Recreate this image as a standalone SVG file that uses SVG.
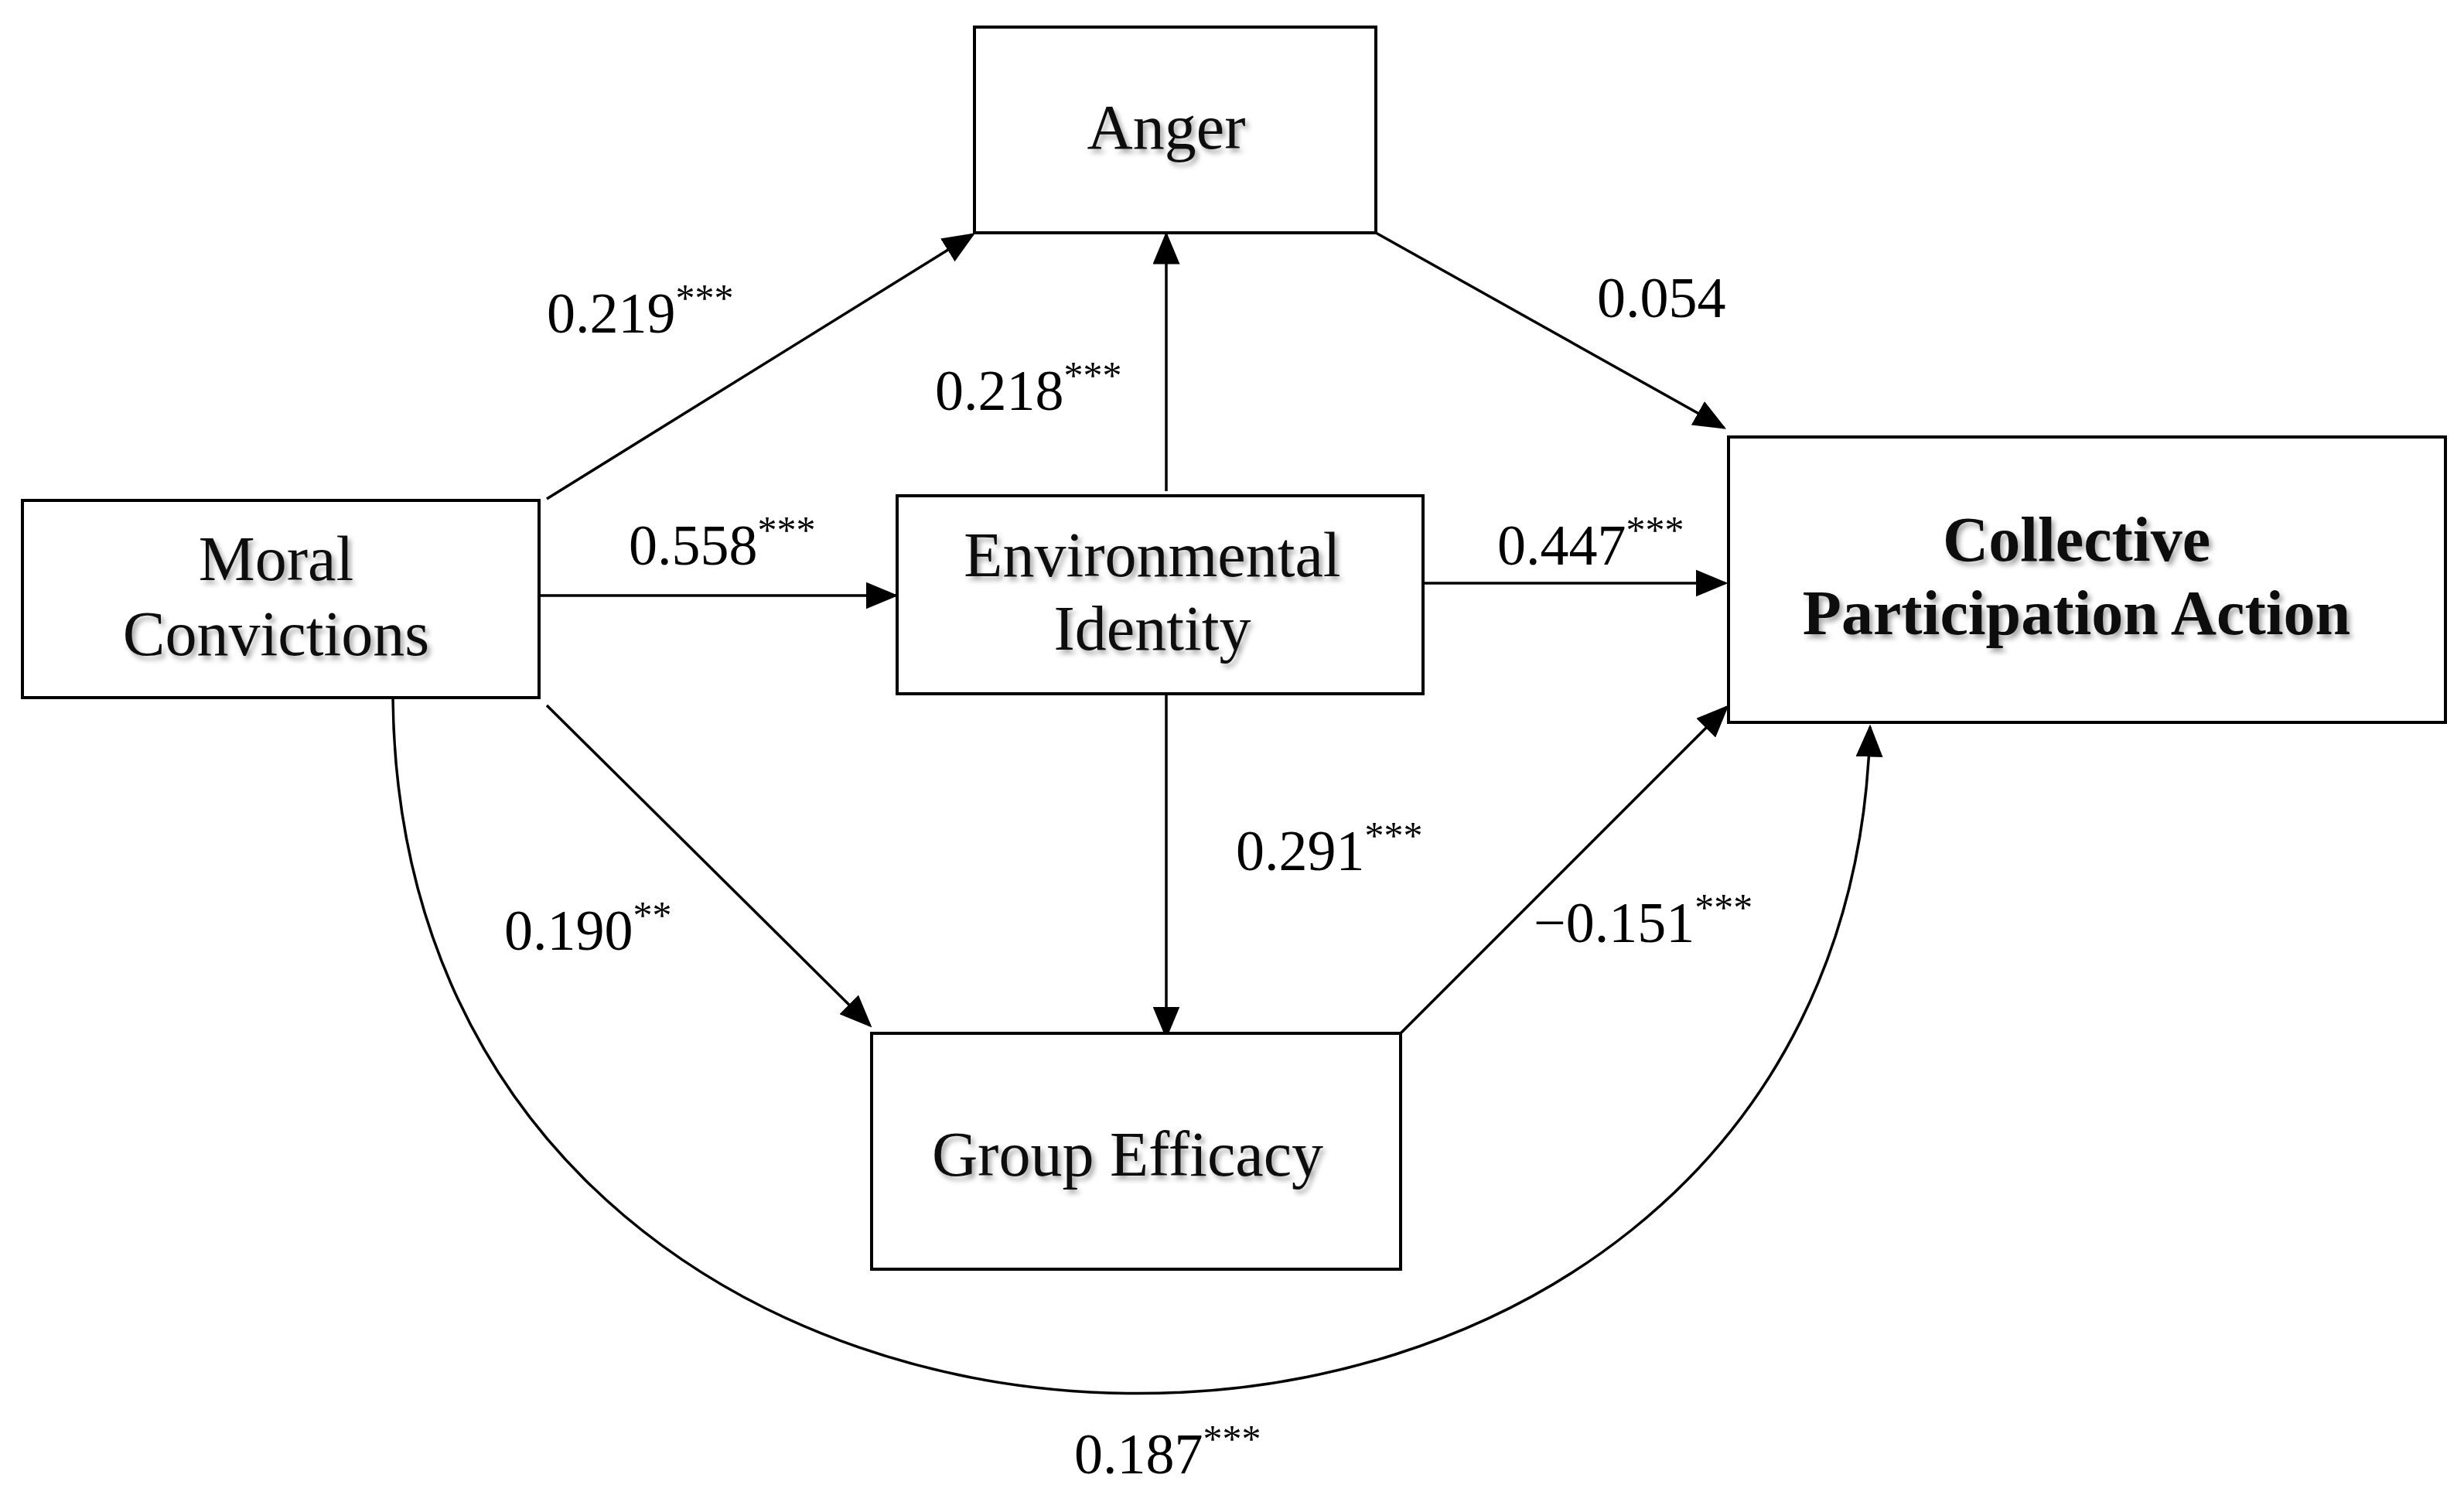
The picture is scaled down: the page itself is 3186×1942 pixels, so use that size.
<svg xmlns="http://www.w3.org/2000/svg" width="3186" height="1942" viewBox="0 0 3186 1942">
<style>
.box{fill:#fff;stroke:#000;stroke-width:4}
.nt{font-family:"Liberation Serif",serif;font-size:82px;fill:#111;text-anchor:middle;filter:url(#sh)}
.lb{font-family:"Liberation Serif",serif;font-size:74px;fill:#000}
.sup{font-size:50px}
.c{stroke:#000;stroke-width:3.5;fill:none;marker-end:url(#ah)}
</style>
<defs>
<marker id="ah" markerWidth="12" markerHeight="10" refX="11" refY="5" orient="auto" markerUnits="strokeWidth"><path d="M0,0 L12,5 L0,10 z" fill="#000"/></marker>
<filter id="sh" x="-10%" y="-20%" width="130%" height="150%"><feDropShadow dx="4" dy="5" stdDeviation="3" flood-color="#000" flood-opacity="0.35"/></filter>
</defs>
<rect width="3186" height="1942" fill="#fff"/>
<g id="connectors">
<path class="c" d="M707,645 L1258,303"/>
<path class="c" d="M697,770 L1158,770"/>
<path class="c" d="M1508,635 L1508,303"/>
<path class="c" d="M1779,301 L2229,553"/>
<path class="c" d="M1840,754 L2231,754"/>
<path class="c" d="M1508,897 L1508,1340"/>
<path class="c" d="M707,912 L1125,1326"/>
<path class="c" d="M1811,1336 L2233,914"/>
<path class="c" d="M508,902 C520,2090 2390,2100 2418,940"/>
</g>
<g id="labels">
<text class="lb" x="707" y="430">0.219<tspan class="sup" dy="-28">***</tspan></text>
<text class="lb" x="813" y="730">0.558<tspan class="sup" dy="-28">***</tspan></text>
<text class="lb" x="1209" y="530">0.218<tspan class="sup" dy="-28">***</tspan></text>
<text class="lb" x="2065" y="410">0.054</text>
<text class="lb" x="1936" y="730">0.447<tspan class="sup" dy="-28">***</tspan></text>
<text class="lb" x="1598" y="1125">0.291<tspan class="sup" dy="-28">***</tspan></text>
<text class="lb" x="652" y="1228">0.190<tspan class="sup" dy="-28">**</tspan></text>
<text class="lb" x="1983" y="1218">−0.151<tspan class="sup" dy="-28">***</tspan></text>
<text class="lb" x="1389" y="1905">0.187<tspan class="sup" dy="-28">***</tspan></text>
</g>
<g id="anger"><rect class="box" x="1260" y="35" width="519" height="266"/><text class="nt" x="1508" y="192">Anger</text></g>
<g id="moral"><rect class="box" x="29" y="647" width="668" height="255"/><text class="nt" x="357" y="750">Moral</text><text class="nt" x="357" y="847">Convictions</text></g>
<g id="envid"><rect class="box" x="1160" y="641" width="680" height="256"/><text class="nt" x="1490" y="745">Environmental</text><text class="nt" x="1490" y="840">Identity</text></g>
<g id="cpa"><rect class="box" x="2235" y="565" width="927" height="369"/><text class="nt" x="2685" y="725" font-weight="bold">Collective</text><text class="nt" x="2685" y="820" font-weight="bold">Participation Action</text></g>
<g id="ge"><rect class="box" x="1127" y="1336" width="684" height="305"/><text class="nt" x="1458" y="1520">Group Efficacy</text></g>
</svg>
